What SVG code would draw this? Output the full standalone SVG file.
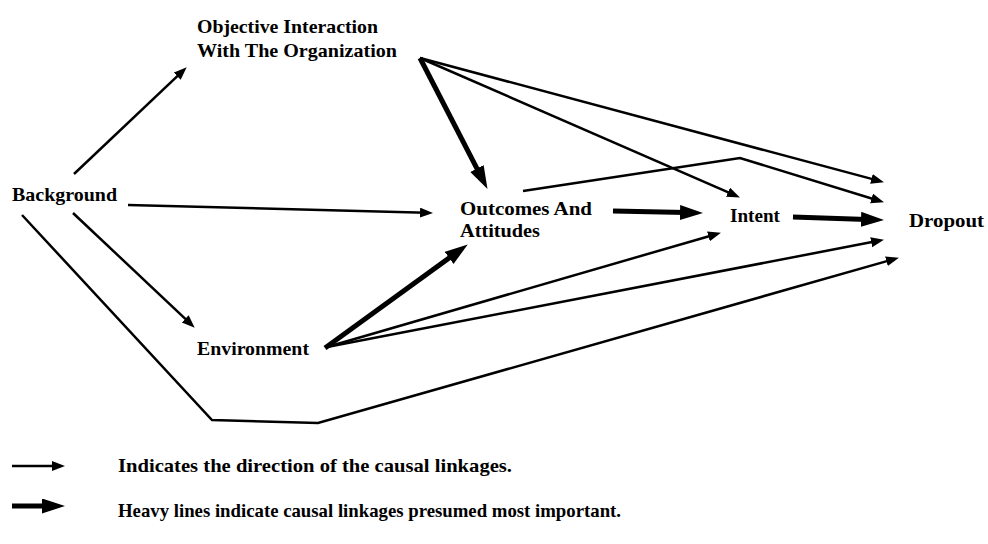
<svg xmlns="http://www.w3.org/2000/svg" width="988" height="544" viewBox="0 0 988 544">
<style>
  text { font-family: "Liberation Serif", "DejaVu Serif", serif; font-weight: bold; font-size: 19px; fill: #000; }
  .thin { fill: none; stroke: #000; stroke-width: 2.5; stroke-linejoin: miter; marker-end: url(#ah); }
  .heavy { fill: none; stroke: #000; stroke-width: 5; marker-end: url(#ahH); }
</style>
<defs>
  <marker id="ah" markerUnits="userSpaceOnUse" markerWidth="14" markerHeight="11" refX="6" refY="5" orient="auto">
    <path d="M0,0 L13,5 L0,10 Z" fill="#000"/>
  </marker>
  <marker id="ahH" markerUnits="userSpaceOnUse" markerWidth="24" markerHeight="16" refX="6" refY="7.5" orient="auto">
    <path d="M0,0 L23,7.5 L0,15 Z" fill="#000"/>
  </marker>
</defs>
<rect width="988" height="544" fill="#fff"/>
<g id="node-objective"><text x="197" y="33" textLength="181" lengthAdjust="spacingAndGlyphs">Objective Interaction</text><text x="197" y="57" textLength="200" lengthAdjust="spacingAndGlyphs">With The Organization</text></g>
<g id="node-background"><text x="12" y="201" textLength="105" lengthAdjust="spacingAndGlyphs">Background</text></g>
<g id="node-outcomes"><text x="460" y="215" textLength="132" lengthAdjust="spacingAndGlyphs">Outcomes And</text><text x="460" y="237" textLength="80" lengthAdjust="spacingAndGlyphs">Attitudes</text></g>
<g id="node-intent"><text x="730" y="222" textLength="50" lengthAdjust="spacingAndGlyphs">Intent</text></g>
<g id="node-dropout"><text x="909" y="227" textLength="75" lengthAdjust="spacingAndGlyphs">Dropout</text></g>
<g id="node-environment"><text x="197" y="355" textLength="112" lengthAdjust="spacingAndGlyphs">Environment</text></g>
<g id="connectors">
  <path class="thin" d="M74,174 L181.6,72.1"/>
  <path class="thin" d="M128,205 L426,212.8"/>
  <path class="thin" d="M73,213 L189.6,322.9"/>
  <path class="thin" d="M22,215 L212,420 L318,423 L892.2,259.6"/>
  <path class="thin" d="M420,58 L733.5,194.6"/>
  <path class="thin" d="M420,58 L877.2,180.4"/>
  <path class="thin" d="M523,191 L740,158 L877.3,200.2"/>
  <path class="thin" d="M327,347 L714.2,234.7"/>
  <path class="thin" d="M327,347 L877.1,241.1"/>
  <path class="heavy" d="M420,58 L479.7,173.8"/>
  <path class="heavy" d="M613,211 L686,212.6"/>
  <path class="heavy" d="M793,217 L867,219.5"/>
  <path class="heavy" d="M325,348 L454,254.4"/>
</g>
<g id="legend">
  <path class="thin" d="M12,466 L58,466"/>
  <path class="heavy" d="M12,506 L48,506"/>
  <text x="118" y="472" textLength="394" lengthAdjust="spacingAndGlyphs">Indicates the direction of the causal linkages.</text>
  <text x="118" y="517" textLength="503" lengthAdjust="spacingAndGlyphs">Heavy lines indicate causal linkages presumed most important.</text>
</g>
</svg>
